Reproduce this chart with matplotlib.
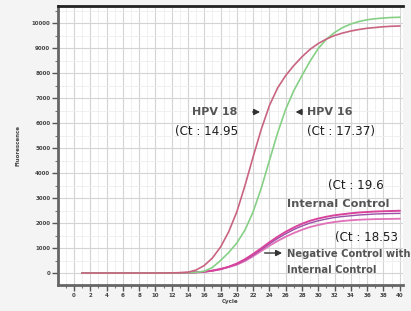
import matplotlib
matplotlib.use("Agg")
import matplotlib.pyplot as plt
from matplotlib.ticker import MultipleLocator

cycles = list(range(1, 41))
hpv18 = [0, 0, 0, 0, 0, 0, 0, 0, 0, 0, 0, 5, 10, 30, 120, 300, 600, 1040, 1650, 2450,
         3500, 4650, 5750, 6700, 7400, 7900, 8300, 8650, 8950, 9180, 9360, 9500, 9600, 9680, 9740,
         9790, 9820, 9850, 9870, 9880]
hpv16 = [0, 0, 0, 0, 0, 0, 0, 0, 0, 0, 0, 0, 5, 10, 25, 70, 220, 500, 820, 1200,
         1720, 2450, 3400, 4500, 5600, 6550, 7300, 7900, 8480, 8980, 9350, 9620, 9820, 9960, 10060,
         10130, 10170, 10200, 10220, 10230]
internal_ctrl = [0, 0, 0, 0, 0, 0, 0, 0, 0, 0, 0, 0, 5, 10, 25, 50, 90, 150, 250, 380,
                 550, 760, 990, 1230, 1450, 1650, 1820, 1970, 2090, 2180, 2250, 2310, 2350, 2390, 2420,
                 2440, 2460, 2470, 2480, 2490]
internal_ctrl2 = [0, 0, 0, 0, 0, 0, 0, 0, 0, 0, 0, 0, 5, 10, 25, 50, 90, 150, 240, 360,
                  520, 720, 940, 1170, 1380, 1570, 1740, 1880, 2000, 2090, 2160, 2220, 2260, 2290, 2320,
                  2340, 2360, 2370, 2380, 2385]
neg_ctrl = [0, 0, 0, 0, 0, 0, 0, 0, 0, 0, 0, 0, 5, 10, 25, 50, 100, 170, 240, 330,
            480, 670, 880, 1090, 1280, 1450, 1600, 1730, 1840, 1920, 1990, 2040, 2080, 2110, 2130,
            2145, 2155, 2160, 2165, 2170]

xticks = list(range(0, 41, 2))
yticks = list(range(0, 10001, 1000))

fig = plt.figure(figsize=(4.11, 3.11), dpi=100, facecolor="#f4f4f4")
ax = fig.add_axes([58/411, 26/311, 345/411, 279/311])
ax.set_facecolor("white")

ax.plot(cycles, neg_ctrl, color="#e070b8", lw=1.3)
ax.plot(cycles, internal_ctrl2, color="#9a4fa8", lw=1.0)
ax.plot(cycles, internal_ctrl, color="#d8449c", lw=1.4)
ax.plot(cycles, hpv16, color="#86d086", lw=1.2)
ax.plot(cycles, hpv18, color="#c86480", lw=1.2)

ax.set_xlim(-1.96, 40.4)
ax.set_ylim(-480, 10680)
ax.set_xticks(xticks)
ax.set_yticks(yticks)
ax.xaxis.set_minor_locator(MultipleLocator(1))
ax.yaxis.set_minor_locator(MultipleLocator(500))
ax.grid(which="major", color="#d4d4d4", lw=0.8)
ax.grid(which="minor", color="#eeeeee", lw=0.6)
ax.set_axisbelow(True)
ax.tick_params(axis="both", which="major", labelsize=4, length=4, width=1, color="#555", pad=1.5)
ax.tick_params(axis="both", which="minor", length=2, width=0.8, color="#777")
for lab in ax.get_xticklabels() + ax.get_yticklabels():
    lab.set_fontweight("bold")
    lab.set_color("#444")
ax.set_xlabel("Cycle", fontsize=4, labelpad=1, color="#444", fontweight="bold")
ax.set_ylabel("Fluorescence", fontsize=4, labelpad=8, color="#444", fontweight="bold")

ax.spines["top"].set_color("#222")
ax.spines["top"].set_linewidth(2)
ax.spines["left"].set_color("#666")
ax.spines["left"].set_linewidth(2)
ax.spines["bottom"].set_color("#666")
ax.spines["bottom"].set_linewidth(2)
ax.spines["right"].set_visible(False)

def c(xp):
    return (xp - 74) / 8.15

def f(yp):
    return (273 - yp) * 40

lab = dict(fontsize=8, fontweight="bold", color="#555", va="center", ha="left")
ct = dict(fontsize=8.6, color="#1e1e1e", va="center", ha="left")
arr = dict(arrowstyle="-|>,head_width=0.18,head_length=0.35", color="#333", lw=1.0)

ax.text(c(192), f(112), "HPV 18", **lab)
ax.annotate("", xy=(c(263), f(112)), xytext=(c(250), f(112)), arrowprops=arr)
ax.text(c(175), f(131), "(Ct : 14.95", **ct)
ax.annotate("", xy=(c(293), f(112)), xytext=(c(305), f(112)), arrowprops=arr)
ax.text(c(307), f(112), "HPV 16", **lab)
ax.text(c(307), f(131), "(Ct : 17.37)", **ct)
ax.text(c(328), f(185), "(Ct : 19.6", **ct)
ax.text(c(287), f(204), "Internal Control", fontsize=8.2, fontweight="bold", color="#555", va="center", ha="left")
ax.text(c(335), f(238), "(Ct : 18.53", **ct)
ax.annotate("", xy=(c(285), f(253)), xytext=(c(262), f(253)), arrowprops=arr)
ax.text(c(287), f(254), "Negative Control with", fontsize=7.2, fontweight="bold", color="#555",
        va="center", ha="left", clip_on=False)
ax.text(c(287), f(270), "Internal Control", fontsize=7.2, fontweight="bold", color="#555", va="center", ha="left")

fig.savefig("out.png", dpi=100, facecolor=fig.get_facecolor())
